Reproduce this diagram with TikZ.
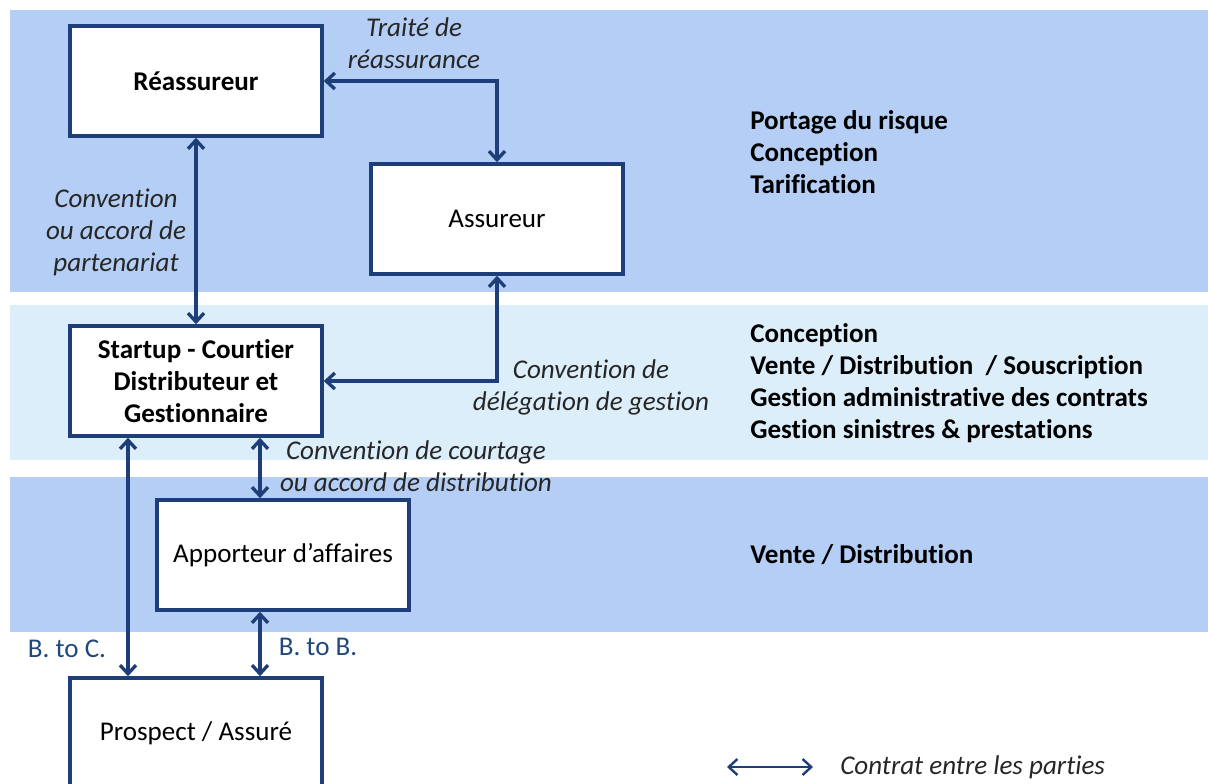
\documentclass[tikz,border=0pt]{standalone}
\usepackage{fontspec}
\setmainfont{Carlito}[Ligatures=NoCommon]
\usepackage{tikz}
\usetikzlibrary{arrows.meta,positioning}

\definecolor{bandblue}{RGB}{180,206,245}
\definecolor{bandlight}{RGB}{221,238,251}
\definecolor{linkblue}{RGB}{30,62,122}
\definecolor{textblue}{RGB}{31,73,125}

\begin{document}
\begin{tikzpicture}[
    x=0.75pt, y=-0.75pt,
    box/.style={rectangle, draw=linkblue, line width=2.6pt, fill=white, minimum width=189pt, minimum height=82.5pt, align=center, font=\fontsize{20.3}{24}\selectfont},
    boldbox/.style={box, font=\fontsize{20.3}{24}\selectfont\bfseries},
    contract/.style={align=center, font=\fontsize{20.3}{24}\selectfont\itshape, text=black!85, inner sep=0pt},
    role/.style={anchor=west, align=left, font=\fontsize{20.3}{24}\selectfont\bfseries, inner sep=0pt},
    channel/.style={font=\fontsize{20.3}{24}\selectfont, text=textblue, inner sep=0pt},
    arrow/.style={{Straight Barb[length=6.5pt,width=12pt]}-{Straight Barb[length=6.5pt,width=12pt]}, line width=2.5pt, draw=linkblue}
]
\useasboundingbox (0,0) rectangle (1208,784);
\clip (0,0) rectangle (1208,784);

% Bands
\fill[bandblue] (10,10) rectangle (1208,292);
\fill[bandlight] (10,305) rectangle (1208,460);
\fill[bandblue] (10,477) rectangle (1208,632);

% Parties
\node[boldbox] (reas) at (196,81) {Réassureur};
\node[box] (assur) at (497,219) {Assureur};
\node[boldbox] (startup) at (196,381) {Startup - Courtier\\Distributeur et\\Gestionnaire};
\node[box] (apport) at (283,555) {Apporteur d’affaires};
\node[box] (pros) at (196,733) {Prospect / Assuré};

% Contracts
\draw[arrow] (reas.east) -| (assur.north);
\draw[arrow] (reas.south) -- (startup.north);
\draw[arrow] (assur.south) |- (startup.east);
\draw[arrow] ([xshift=48pt]startup.south) -- ([xshift=48pt]startup.south |- apport.north);
\draw[arrow] ([xshift=-51pt]startup.south) -- ([xshift=-51pt]startup.south |- pros.north);
\draw[arrow] ([xshift=48pt]pros.north) -- ([xshift=48pt]pros.north |- apport.south);

% Contract labels
\node[contract] (treaty) at (414,43) {Traité de\\réassurance};
\node[contract] (partner) at (116,232) {Convention\\ou accord de\\partenariat};
\node[contract] (deleg) at (591,387) {Convention de\\délégation de gestion};
\node[contract] (brokerage) at (416,466) {Convention de courtage\\ou accord de distribution};
\node[channel] (btoc) at (67,649) {B. to C.};
\node[channel] (btob) at (318,647) {B. to B.};

% Roles
\node[role] (riskroles) at (750,152) {Portage du risque\\Conception\\Tarification};
\node[role] (mgmtroles) at (750,383) {Conception\\Vente / Distribution~ / Souscription\\Gestion administrative des contrats\\Gestion sinistres \& prestations};
\node[role] (salesroles) at (750,555) {Vente / Distribution};

% Legend
\coordinate (legL) at (727,767);
\coordinate (legR) at (813,767);
\draw[arrow, line width=1.8pt] (legL) -- (legR);
\node[contract, anchor=west] (legend) at (840,767) {Contrat entre les parties};

\end{tikzpicture}
\end{document}
